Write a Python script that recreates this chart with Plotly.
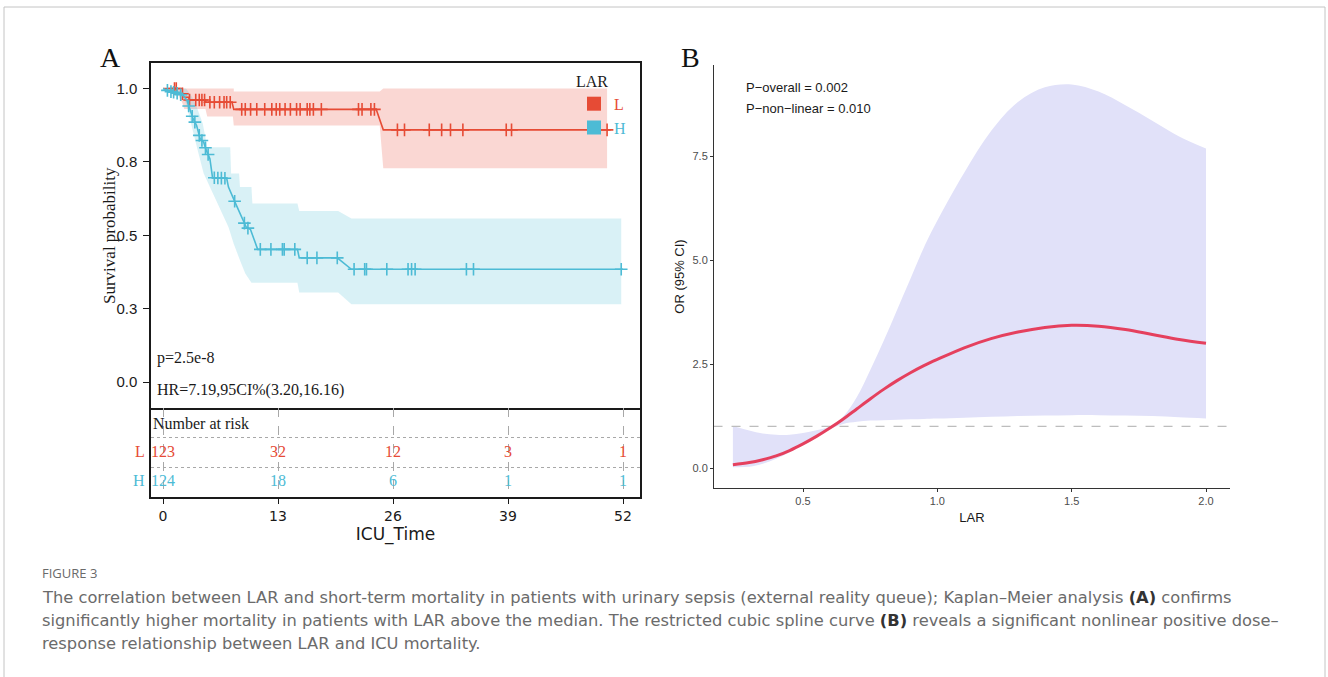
import numpy as np
import plotly.graph_objects as go

# ---------------- Panel A: Kaplan-Meier data ----------------
groups = ["L", "H"]

# L group curve vertices (ICU time, survival)
l_time = [0, 1.5, 1.7, 2.2, 2.4, 2.9, 3.0, 4.7, 4.9, 7.8, 8.0, 24.1, 24.9, 50.6]
l_surv = [1.0, 1.0, 0.982, 0.982, 0.97, 0.97, 0.961, 0.961, 0.953, 0.953, 0.929, 0.929, 0.859, 0.859]
l_censor = [1.3, 1.5, 2.2, 3.0, 3.7, 4.1, 4.4, 4.7, 5.3, 5.8, 6.4, 6.9, 7.2, 7.6,
            8.9, 9.3, 9.9, 10.6, 11.5, 12.3, 12.8, 13.2, 13.8, 14.4, 15.1, 15.5,
            16.3, 16.6, 17.0, 17.9, 22.1, 22.5, 23.5, 23.9,
            26.5, 27.3, 30.1, 31.5, 32.5, 33.9, 38.8, 39.4, 50.2]
l_band_up_t = [1.6, 8.0, 8.0, 24.5, 24.9, 50.2]
l_band_up = [1.0, 1.0, 0.99, 0.99, 1.0, 1.0]
l_band_lo_t = [1.6, 2.2, 2.4, 4.8, 5.0, 7.9, 8.0, 24.5, 24.9, 50.2]
l_band_lo = [0.985, 0.95, 0.93, 0.93, 0.905, 0.905, 0.874, 0.874, 0.728, 0.728]

# H group curve vertices
h_time = [0, 0.8, 1.5, 2.3, 2.7, 3.06, 3.4, 3.8, 4.2, 4.6, 4.9, 5.3, 5.6, 7.2, 7.4,
          8.3, 9.4, 9.9, 10.4, 10.7, 15.2, 15.4, 19.7, 21.3, 52.0]
h_surv = [1.0, 0.99, 0.985, 0.975, 0.96, 0.925, 0.897, 0.874, 0.829, 0.817, 0.789,
          0.761, 0.696, 0.694, 0.664, 0.602, 0.528, 0.519, 0.474, 0.452, 0.452,
          0.423, 0.423, 0.384, 0.384]
h_censor = [0.5, 0.9, 1.2, 1.6, 2.0, 2.9, 3.3, 3.6, 4.1, 4.4, 4.8, 5.1, 5.8, 6.2,
            6.6, 7.0, 8.1, 9.2, 9.6, 11.0, 12.2, 13.5, 13.7, 14.9, 16.3, 17.4,
            19.7, 21.6, 22.8, 23.0, 25.3, 27.7, 28.1, 28.5, 34.3, 35.1, 51.8]
h_band_up_t = [0, 2.6, 3.3, 3.9, 4.5, 5.0, 7.6, 7.7, 8.6, 8.7, 10.0, 10.1, 15.2, 15.4,
               19.8, 21.3, 51.8]
h_band_up = [1.0, 1.0, 0.97, 0.93, 0.88, 0.80, 0.80, 0.71, 0.71, 0.664, 0.664, 0.608,
             0.608, 0.583, 0.583, 0.557, 0.557]
h_band_lo_t = [0, 2.0, 2.6, 3.0, 3.5, 4.0, 4.6, 5.3, 6.0, 7.4, 8.0, 8.7, 9.3, 10.0,
               15.2, 15.4, 19.8, 21.3, 51.8]
h_band_lo = [1.0, 0.98, 0.95, 0.90, 0.84, 0.78, 0.71, 0.66, 0.62, 0.528, 0.47, 0.415,
             0.37, 0.338, 0.338, 0.305, 0.305, 0.265, 0.265]

surv_ticks = [0, 0.25, 0.5, 0.75, 1.0]
surv_ticktext = ["0.0", "0.3", "0.5", "0.8", "1.0"]

# Number at risk table
risk_times = [0, 13, 26, 39, 52]
risk_l = [123, 32, 12, 3, 1]
risk_h = [124, 18, 6, 1, 1]

p_text = "p=2.5e-8"
hr_text = "HR=7.19,95CI%(3.20,16.16)"

# ---------------- Panel B: restricted cubic spline ----------------
lar = [0.239, 0.30, 0.35, 0.40, 0.45, 0.50, 0.55, 0.60, 0.65, 0.70, 0.75, 0.80, 0.85,
       0.90, 0.95, 1.00, 1.10, 1.20, 1.30, 1.40, 1.50, 1.60, 1.70, 1.80, 1.90, 2.00]
or_fit = [0.08, 0.13, 0.20, 0.29, 0.42, 0.58, 0.76, 0.96, 1.18, 1.42, 1.66, 1.89, 2.10,
          2.29, 2.46, 2.61, 2.89, 3.11, 3.27, 3.38, 3.43, 3.41, 3.33, 3.21, 3.09, 3.00]
or_hi = [1.01, 0.90, 0.83, 0.80, 0.80, 0.84, 0.91, 1.00, 1.24, 1.70, 2.35, 3.05, 3.80,
         4.55, 5.30, 5.95, 7.10, 8.10, 8.80, 9.15, 9.22, 9.05, 8.72, 8.35, 7.97, 7.68]
or_lo = [0.02, 0.03, 0.10, 0.22, 0.38, 0.55, 0.73, 0.93, 1.06, 1.11, 1.14, 1.15, 1.16,
         1.17, 1.18, 1.19, 1.21, 1.23, 1.25, 1.26, 1.27, 1.27, 1.26, 1.25, 1.22, 1.19]
or_ticks = [0.0, 2.5, 5.0, 7.5]
lar_ticks = [0.5, 1.0, 1.5, 2.0]
p_overall = "P\u2212overall = 0.002"
p_nonlin = "P\u2212non\u2212linear = 0.010"

# ---------------- styling ----------------
W, H = 1328, 677
RED = "#E64B35"
BLUE = "#4DBBD5"
RED_FILL = "rgba(230,75,53,0.22)"
BLUE_FILL = "rgba(77,187,213,0.21)"
SERIF = "Liberation Serif"
SANS = "Liberation Sans"
INK = "#1a1a1a"


def fx(px):
    return px / W


def fy(py):
    return 1 - py / H


fig = go.Figure()


def band(t_up, up, t_lo, lo, color):
    xs = list(t_up) + list(t_lo)[::-1]
    ys = list(up) + list(lo)[::-1]
    fig.add_trace(go.Scatter(x=xs, y=ys, fill="toself", fillcolor=color,
                             line=dict(width=0), mode="lines", hoverinfo="skip",
                             showlegend=False, xaxis="x", yaxis="y"))


band(l_band_up_t, l_band_up, l_band_lo_t, l_band_lo, RED_FILL)
band(h_band_up_t, h_band_up, h_band_lo_t, h_band_lo, BLUE_FILL)

for t, s, cens, col in [(l_time, l_surv, l_censor, RED), (h_time, h_surv, h_censor, BLUE)]:
    fig.add_trace(go.Scatter(x=t, y=s, mode="lines", line=dict(color=col, width=1.6),
                             showlegend=False, xaxis="x", yaxis="y"))
    cy = np.interp(cens, t, s)
    fig.add_trace(go.Scatter(x=cens, y=cy, mode="markers",
                             marker=dict(symbol="cross-thin", size=9,
                                         line=dict(color=col, width=1.6)),
                             showlegend=False, xaxis="x", yaxis="y"))

# legend entries
for g, col in zip(groups, [RED, BLUE]):
    fig.add_trace(go.Scatter(x=[None], y=[None], mode="markers",
                             marker=dict(symbol="square", size=14, color=col),
                             name=f'<span style="color:{col}">{g}</span>',
                             xaxis="x", yaxis="y"))

# risk table numbers
for row, vals, col in [(1.5, risk_l, RED), (0.5, risk_h, BLUE)]:
    fig.add_trace(go.Scatter(x=risk_times, y=[row] * len(vals), mode="text",
                             text=[str(v) for v in vals],
                             textfont=dict(family=SERIF, size=16, color=col),
                             showlegend=False, xaxis="x2", yaxis="y2"))

# spline panel
fig.add_trace(go.Scatter(x=lar, y=or_lo, mode="lines", line=dict(width=0, shape="spline"),
                         showlegend=False, xaxis="x3", yaxis="y3"))
fig.add_trace(go.Scatter(x=lar, y=or_hi, mode="lines", line=dict(width=0, shape="spline"),
                         fill="tonexty", fillcolor="#E1E1F9",
                         showlegend=False, xaxis="x3", yaxis="y3"))
fig.add_trace(go.Scatter(x=[0.1, 2.2], y=[1, 1], mode="lines",
                         line=dict(color="#BDBDBD", width=1.2, dash="dash"),
                         showlegend=False, xaxis="x3", yaxis="y3"))
fig.add_trace(go.Scatter(x=lar, y=or_fit, mode="lines",
                         line=dict(color="#E5405E", width=3, shape="spline"),
                         showlegend=False, xaxis="x3", yaxis="y3"))

# axis ranges from pixel layout
xa_left, xa_right = 151, 640
x0_px, x52_px = 163, 623
ppu = (x52_px - x0_px) / 52
km_xrange = [(xa_left - x0_px) / ppu, (xa_right - x0_px) / ppu]
top_px, sep_px, tbl_bot = 63, 408, 497
s1_px, s0_px = 88.5, 382
spu = s0_px - s1_px
km_yrange = [-(sep_px - s0_px) / spu, 1 + (s1_px - top_px) / spu]

bx_left, bx_right = 714, 1230
b05, b20 = 803, 1206
bppu = (b20 - b05) / 1.5
b_xrange = [0.5 - (b05 - bx_left) / bppu, 2.0 + (bx_right - b20) / bppu]
by_top, by_bot = 65, 488
b0, b75 = 468, 156
bppv = (b0 - b75) / 7.5
b_yrange = [-(by_bot - b0) / bppv, 7.5 + (b75 - by_top) / bppv]

line_style = dict(showline=True, linecolor=INK, linewidth=1.5, zeroline=False)

fig.update_layout(
    width=W, height=H, margin=dict(l=0, r=0, t=0, b=0),
    paper_bgcolor="white", plot_bgcolor="rgba(0,0,0,0)",
    xaxis=dict(domain=[fx(xa_left), fx(xa_right)], range=km_xrange, showticklabels=False,
               ticks="", showgrid=False, anchor="y", mirror=True, **line_style),
    yaxis=dict(domain=[fy(sep_px), fy(top_px)], range=km_yrange, tickvals=surv_ticks,
               ticktext=surv_ticktext, ticks="outside", ticklen=6, tickcolor=INK,
               ticklabelstandoff=3,
               tickfont=dict(family=SANS, size=15, color=INK), showgrid=False,
               anchor="x", mirror=True, **line_style),
    xaxis2=dict(domain=[fx(xa_left), fx(xa_right)], range=km_xrange, tickvals=risk_times,
                ticks="outside", ticklen=5, tickcolor=INK,
                tickfont=dict(family="DejaVu Sans", size=14, color=INK),
                showgrid=True, gridcolor="#A8A8A8", griddash="dash", gridwidth=1,
                title=dict(text="ICU_Time", font=dict(family="DejaVu Sans", size=17,
                                                       color=INK), standoff=0),
                anchor="y2", mirror=False, **line_style),
    yaxis2=dict(domain=[fy(tbl_bot), fy(sep_px)], range=[0, 3], tickvals=[1, 2],
                showticklabels=False, ticks="", showgrid=True, gridcolor="#A8A8A8",
                griddash="dot", gridwidth=1, anchor="x2", mirror=True, **line_style),
    xaxis3=dict(domain=[fx(bx_left), fx(bx_right)], range=b_xrange, tickvals=lar_ticks,
                ticktext=[f"{v:.1f}" for v in lar_ticks], ticks="outside", ticklen=3,
                tickcolor="#333", tickfont=dict(family=SANS, size=11, color="#4D4D4D"),
                showline=True, linecolor="#333", linewidth=1, showgrid=False,
                zeroline=False, anchor="y3",
                title=dict(text="LAR", font=dict(family=SANS, size=13, color=INK),
                           standoff=6)),
    yaxis3=dict(domain=[fy(by_bot), fy(by_top)], range=b_yrange, tickvals=or_ticks,
                ticktext=[f"{v:.1f}" for v in or_ticks], ticks="outside", ticklen=3,
                tickcolor="#333", tickfont=dict(family=SANS, size=11, color="#4D4D4D"),
                showline=True, linecolor="#333", linewidth=1, showgrid=False,
                zeroline=False, anchor="x3",
                title=dict(text="OR (95% CI)", font=dict(family=SANS, size=13,
                                                          color=INK), standoff=4)),
    legend=dict(x=fx(574), y=fy(66), xanchor="left", yanchor="top",
                bgcolor="rgba(0,0,0,0)", font=dict(family=SERIF, size=16),
                title=dict(text="LAR", font=dict(family=SERIF, size=16, color=INK)),
                itemsizing="trace", tracegroupgap=0, itemwidth=30, traceorder="normal"),
    showlegend=True,
)

ann = []


def label(text, px, py, family, size, color, xanchor="left", angle=0):
    ann.append(dict(text=text, x=fx(px), y=fy(py), xref="paper", yref="paper",
                    xanchor=xanchor, yanchor="middle", textangle=angle, showarrow=False,
                    font=dict(family=family, size=size, color=color)))


label("A", 110, 57, SERIF, 28, "#111", "center")
label("B", 690, 57, SERIF, 28, "#111", "center")
label("Survival probability", 109, 235, SERIF, 17, INK, "center", -90)
label(p_text, 155, 358, SERIF, 16, INK)
label(hr_text, 155, 390, SERIF, 16, INK)
label("Number at risk", 151, 424, SERIF, 16, INK)
for g, col, yy in [("L", RED, 452), ("H", BLUE, 481)]:
    label(g, 147, yy, SERIF, 16, col, "right")
label(p_overall, 744, 87, SANS, 13, INK)
label(p_nonlin, 744, 108, SANS, 13, INK)

# caption
CAP = "DejaVu Sans"
CAP_COL = "#6b6b6b"
label("FIGURE 3", 40, 573, "Open Sans", 13, "#6a6a6a")
cap_lines = [
    "The correlation between LAR and short-term mortality in patients with urinary sepsis "
    "(external reality queue); Kaplan\u2013Meier analysis <b style='color:#333'>(A)</b> confirms",
    "significantly higher mortality in patients with LAR above the median. The restricted "
    "cubic spline curve <b style='color:#333'>(B)</b> reveals a significant nonlinear positive dose\u2013",
    "response relationship between LAR and ICU mortality.",
]
for i, line in enumerate(cap_lines):
    label(line, 40, 597 + 23 * i, CAP, 16.3, CAP_COL)

fig.update_layout(annotations=ann)

# outer frame of the figure box
fig.add_shape(type="rect", xref="paper", yref="paper", x0=fx(4), x1=fx(1325),
              y0=-0.05, y1=fy(7), line=dict(color="#C4C4C4", width=1))

fig.write_html("out.html")
